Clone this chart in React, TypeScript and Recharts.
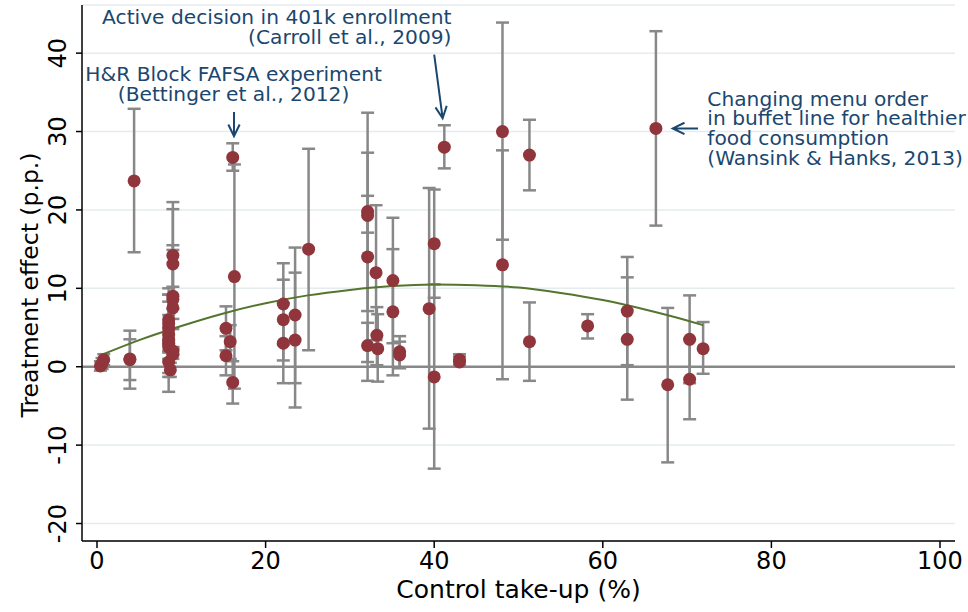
import React from 'react';
import { ComposedChart, Scatter, XAxis, YAxis, CartesianGrid, ErrorBar, ReferenceLine, ReferenceDot, Label } from 'recharts';

const FONT = '"DejaVu Sans", Verdana, sans-serif';
const NAVY = '#1a476f';
const CRANBERRY = '#90353b';
const BAR_GRAY = '#888888';
const FIT_GREEN = '#55752f';

// control take-up (%) for each study
const takeUp = [
  0.4, 0.6, 0.8, 3.9, 3.9, 4.4,
  9.0, 9.0, 9.0, 9.0, 9.0, 8.5, 8.5, 8.5, 8.5, 8.5, 8.5, 8.5, 9.0, 9.0, 8.5, 8.7,
  15.3, 15.3, 15.8, 16.1, 16.3, 16.1,
  22.1, 22.1, 22.1, 23.5, 23.5, 25.1,
  32.1, 32.1, 32.1, 32.1, 33.1, 33.2, 33.3, 35.1, 35.1, 35.9, 35.9,
  39.4, 40.0, 40.0, 41.2, 43.0, 43.0,
  48.1, 48.1, 51.3, 51.3, 58.2, 62.9, 62.9, 66.3, 67.7, 70.3, 70.3, 71.9,
];
// treatment effect (p.p.)
const effect = [
  0.1, 0.4, 0.9, 1.0, 0.9, 23.7,
  14.2, 13.1, 9.0, 8.6, 7.5, 6.0, 5.5, 4.8, 4.2, 3.5, 3.0, 2.5, 2.0, 1.6, 0.6, -0.4,
  4.9, 1.4, 3.2, -2.0, 11.5, 26.7,
  8.0, 6.0, 3.0, 6.6, 3.4, 15.0,
  19.8, 19.3, 14.0, 2.7, 12.0, 4.0, 2.3, 11.0, 7.0, 1.9, 1.5,
  7.4, 15.7, -1.3, 28.0, 0.6, 0.9,
  30.0, 13.0, 27.0, 3.2, 5.2, 7.1, 3.5, 30.4, -2.3, 3.5, -1.6, 2.3,
];
// confidence interval bounds
const ciLow = [
  -0.5, -0.3, 0.2, -2.8, -1.7, 14.6,
  7.4, 6.1, 2.5, 2.3, 4.8, 2.0, 1.8, 2.9, 3.3, -1.3, -3.2, 1.0, 1.5, 1.0, -0.8, -1.3,
  2.1, -1.1, 1.0, -4.7, -2.8, 25.0,
  2.8, 0.8, -2.1, -2.1, -5.2, 2.1,
  7.1, 17.1, 0.6, -1.8, 3.4, 0.2, -1.9, 3.0, -1.1, -0.1, -0.2,
  -7.9, 8.8, -13.0, 25.3, 0.0, 0.2,
  16.2, -1.6, 22.5, -1.8, 3.6, 0.2, -4.2, 18.0, -12.2, -2.1, -6.7, -0.9,
];
const ciHigh = [
  0.7, 1.1, 1.6, 4.6, 3.5, 32.9,
  21.0, 20.1, 15.5, 14.9, 10.2, 10.0, 9.2, 6.6, 5.1, 8.3, 9.2, 4.0, 2.5, 2.1, 2.0, 0.5,
  7.7, 3.9, 5.3, 0.7, 25.8, 28.5,
  13.2, 11.1, 8.1, 15.2, 12.0, 27.8,
  32.4, 21.8, 27.3, 5.6, 20.6, 7.6, 6.7, 19.0, 15.0, 3.9, 3.2,
  22.8, 22.6, 10.5, 30.8, 1.3, 1.6,
  43.9, 27.6, 31.5, 8.2, 6.7, 14.0, 11.4, 42.8, 7.5, 9.1, 3.5, 5.7,
];

// quadratic fit
const fitX = [0.5, 5, 10, 15, 20, 25, 30, 35, 40, 45, 50, 55, 60, 65, 70, 71.9];
const fitY = [1.5, 3.4, 5.2, 6.8, 8.1, 9.1, 9.8, 10.3, 10.5, 10.4, 10.1, 9.4, 8.5, 7.3, 5.9, 5.3];

const xTicks = [0, 20, 40, 60, 80, 100];
const yTicks = [-20, -10, 0, 10, 20, 30, 40];

const notes = [
  { x: 42.05, y: 43.7, anchor: 'end', lines: ['Active decision in 401k enrollment', '(Carroll et al., 2009)'] },
  { x: 16.2, y: 36.4, anchor: 'middle', lines: ['H&R Block FAFSA experiment', '(Bettinger et al., 2012)'] },
  { x: 72.4, y: 33.3, anchor: 'start', lines: ['Changing menu order', 'in buffet line for healthier', 'food consumption', '(Wansink & Hanks, 2013)'] },
];
const arrows = [
  { x1: 40.0, y1: 39.8, x2: 41.0, y2: 31.7 },
  { x1: 16.25, y1: 32.5, x2: 16.25, y2: 29.4 },
  { x1: 71.3, y1: 30.4, x2: 68.3, y2: 30.4 },
];

const points = takeUp.map((x, i) => ({ x, y: effect[i], err: [effect[i] - ciLow[i], ciHigh[i] - effect[i]] }));
const fit = fitX.map((x, i) => ({ x, y: fitY[i] }));

const YTick = (props: any) => {
  const { x, y, payload } = props;
  return (
    <text x={x} y={y} transform={`rotate(-90 ${x} ${y})`} textAnchor="middle" fontSize={24} fontFamily={FONT} fill="#000">
      {payload.value}
    </text>
  );
};

const XTitle = (props: any) => {
  const vb = props.viewBox;
  return (
    <text x={vb.x + vb.width / 2} y={vb.y + 57} textAnchor="middle" fontSize={25} fontFamily={FONT} fill="#000">
      Control take-up (%)
    </text>
  );
};

const YTitle = (props: any) => {
  const vb = props.viewBox;
  const cx = 38;
  const cy = vb.y + vb.height / 2 + 12;
  return (
    <text x={cx} y={cy} transform={`rotate(-90 ${cx} ${cy})`} textAnchor="middle" fontSize={23.5} fontFamily={FONT} fill="#000">
      Treatment effect (p.p.)
    </text>
  );
};

// shaft plus an open arrow head at the second point
const Arrow = (props: any) => {
  const { x1, y1, x2, y2 } = props;
  const a = Math.atan2(y2 - y1, x2 - x1);
  const len = 13;
  const spread = 0.45;
  const ax = x2 - len * Math.cos(a - spread);
  const ay = y2 - len * Math.sin(a - spread);
  const bx = x2 - len * Math.cos(a + spread);
  const by = y2 - len * Math.sin(a + spread);
  return (
    <path d={`M${x1},${y1} L${x2},${y2} M${ax},${ay} L${x2},${y2} L${bx},${by}`} stroke={NAVY} strokeWidth={2} fill="none" />
  );
};

const noteShape = (lines: string[], anchor: string) => (p: any) => (
  <text x={p.cx} y={p.cy} textAnchor={anchor} fontSize={20.2} fontFamily={FONT} fill={NAVY}>
    {lines.map((l, i) => (
      <tspan key={i} x={p.cx} dy={i === 0 ? 0 : 19.8}>{l}</tspan>
    ))}
  </text>
);

export default function App() {
  return (
    <div style={{ position: 'absolute', left: 0, top: 0, width: 968, height: 612, background: '#fff' }}>
      <ComposedChart width={968} height={612} margin={{ top: 5, right: 13, bottom: 0, left: 0 }}>
        <CartesianGrid vertical={false} stroke="#e4ecee" strokeWidth={1.5} />
        <XAxis
          type="number"
          dataKey="x"
          domain={[-1.78, 101.78]}
          ticks={xTicks}
          allowDataOverflow
          height={71}
          tickSize={7}
          tickMargin={4}
          axisLine={{ stroke: '#000', strokeWidth: 1.5 }}
          tickLine={{ stroke: '#000', strokeWidth: 1.5 }}
          tick={{ fontSize: 24, fontFamily: FONT, fill: '#000' }}
        >
          <Label content={XTitle} />
        </XAxis>
        <YAxis
          type="number"
          dataKey="y"
          domain={[-22.23, 46.14]}
          ticks={yTicks}
          allowDataOverflow
          width={82}
          tickSize={6}
          tickMargin={10}
          axisLine={{ stroke: '#000', strokeWidth: 1.5 }}
          tickLine={{ stroke: '#000', strokeWidth: 1.5 }}
          tick={<YTick />}
        >
          <Label content={YTitle} />
        </YAxis>
        <ReferenceLine y={0} stroke={BAR_GRAY} strokeWidth={2.5} />
        <Scatter data={points} isAnimationActive={false} shape={() => <g />}>
          <ErrorBar dataKey="err" direction="y" width={6.5} stroke={BAR_GRAY} strokeWidth={2.5} isAnimationActive={false} />
        </Scatter>
        <Scatter
          data={fit}
          isAnimationActive={false}
          line={{ stroke: FIT_GREEN, strokeWidth: 2 }}
          lineJointType="monotoneX"
          shape={() => <g />}
        />
        <Scatter
          data={points}
          isAnimationActive={false}
          shape={(p: any) => <circle cx={p.cx} cy={p.cy} r={6.5} fill={CRANBERRY} />}
        />
        {arrows.map((a, i) => (
          <ReferenceLine
            key={`arrow-${i}`}
            segment={[{ x: a.x1, y: a.y1 }, { x: a.x2, y: a.y2 }]}
            shape={Arrow}
          />
        ))}
        {notes.map((n, i) => (
          <ReferenceDot key={`note-${i}`} x={n.x} y={n.y} r={0} shape={noteShape(n.lines, n.anchor)} />
        ))}
      </ComposedChart>
    </div>
  );
}
